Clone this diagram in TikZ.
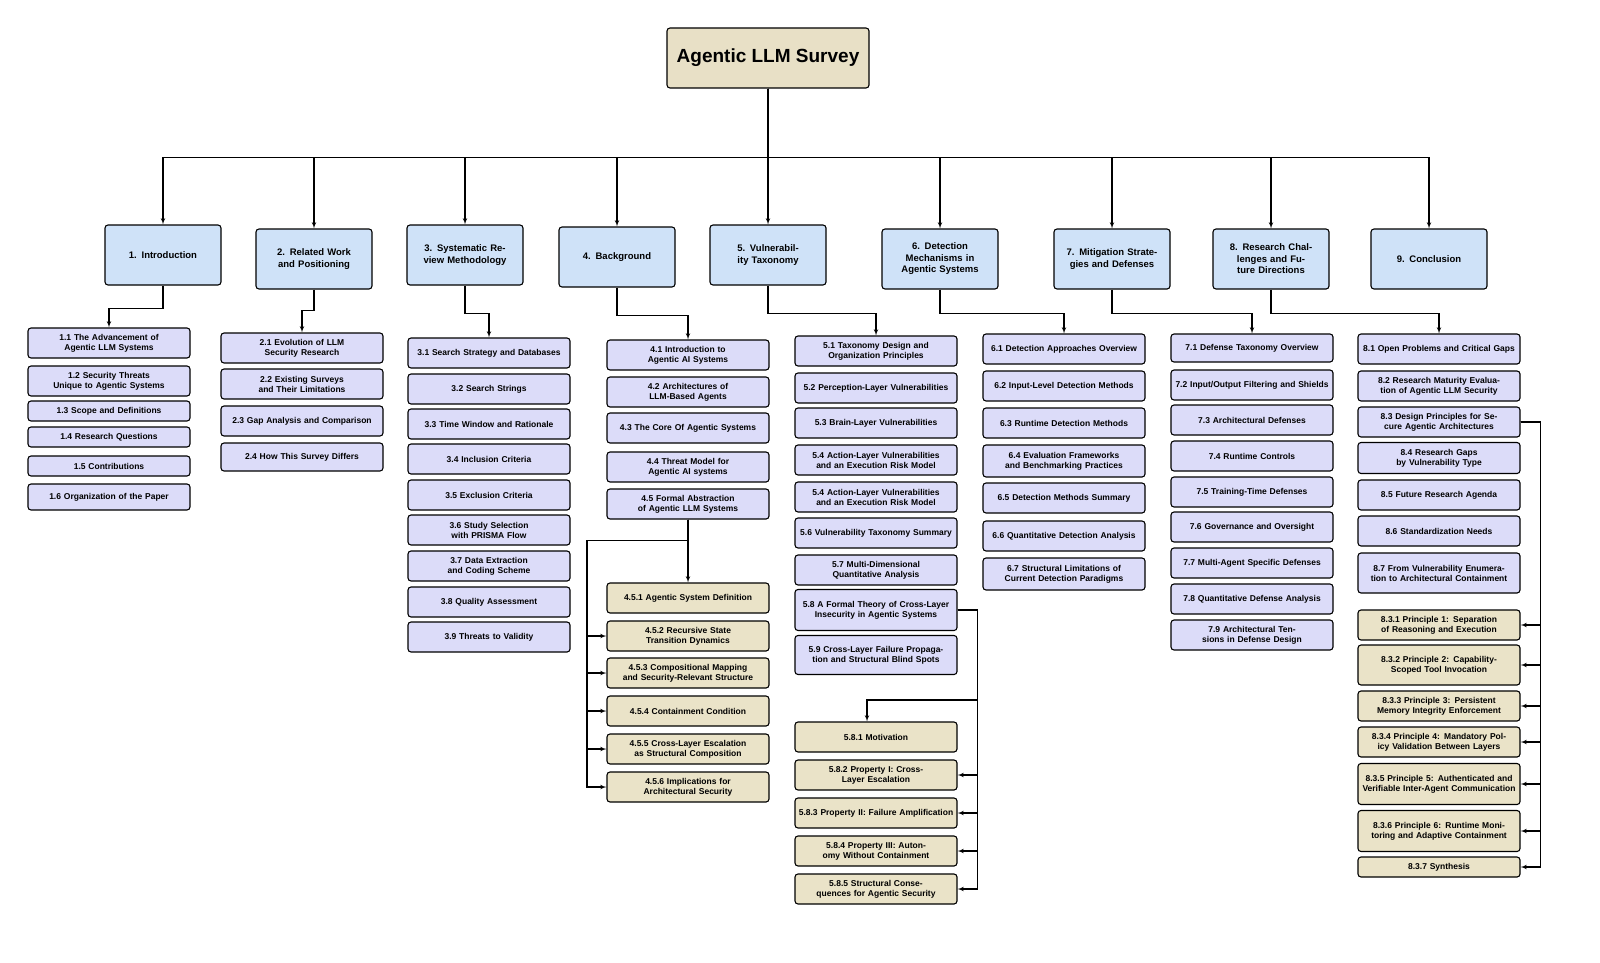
\documentclass[tikz,border=0pt]{standalone}
\usepackage{fontspec}
\setmainfont{Liberation Sans}
\usepackage{tikz}
\usetikzlibrary{arrows, positioning, shapes}

\definecolor{rootfill}{HTML}{E8E0C6}
\definecolor{secfill}{HTML}{CFE2F8}
\definecolor{subfill}{HTML}{DCDCF9}
\definecolor{leaffill}{HTML}{EAE3C8}

\begin{document}
\begin{tikzpicture}[x=1pt, y=-1pt,
  box/.style    ={draw, rectangle, rounded corners=3pt, line width=1.1pt, align=center,
                  font=\fontsize{8.5}{10}\selectfont\bfseries, inner ysep=1pt},
  rootbox/.style={box, fill=rootfill, minimum width=202, minimum height=60,
                  font=\fontsize{19}{22}\selectfont\bfseries},
  sec/.style    ={box, fill=secfill, text width=106, inner xsep=5pt, minimum height=60,
                  font=\fontsize{9.5}{11.5}\selectfont\bfseries},
  sub/.style    ={box, fill=subfill, text width=156, inner xsep=3pt, minimum height=30},
  leaf/.style   ={box, fill=leaffill, text width=156, inner xsep=3pt, minimum height=30},
  link/.style   ={draw, line width=1.1pt, -latex'}
]
\useasboundingbox (0,0) rectangle (1600,963);

\node [rootbox] (root) at (768,58) {Agentic LLM Survey};

\node [sec] (sec1) at (163,255) {1. Introduction};
\node [sec] (sec2) at (314,259) {2. Related Work and Positioning};
\node [sec] (sec3) at (465,255) {3. Systematic Review Methodology};
\node [sec] (sec4) at (617,257) {4. Background};
\node [sec] (sec5) at (768,255) {5. Vulnerability Taxonomy};
\node [sec] (sec6) at (940,259) {6. Detection Mechanisms in Agentic Systems};
\node [sec] (sec7) at (1112,259) {7. Mitigation Strategies and Defenses};
\node [sec] (sec8) at (1271,259) {8. Research Challenges and Future Directions};
\node [sec] (sec9) at (1429,259) {9. Conclusion};

\foreach \s in {1,...,9}
  \path [link] (root.south) -- ++(0,69) -| (sec\s.north);

% section 1
\node [sub                   ] (s11) at (109,343) {1.1 The Advancement of Agentic LLM Systems};
\node [sub                   ] (s12) at (109,381) {1.2 Security Threats Unique to Agentic Systems};
\node [sub, minimum height=20] (s13) at (109,411) {1.3 Scope and Definitions};
\node [sub, minimum height=20] (s14) at (109,437) {1.4 Research Questions};
\node [sub, minimum height=20] (s15) at (109,466) {1.5 Contributions};
\node [sub, minimum height=26] (s16) at (109,497) {1.6 Organization of the Paper};
\path [link] (sec1.south) -- ++(0,23) -| (s11.north);

% section 2
\node [sub] (s21) at (302,348) {2.1 Evolution of LLM Security Research};
\node [sub] (s22) at (302,384) {2.2 Existing Surveys and Their Limitations};
\node [sub] (s23) at (302,421) {2.3 Gap Analysis and Comparison};
\node [sub, minimum height=28] (s24) at (302,457) {2.4 How This Survey Differs};
\path [link] (sec2.south) -- ++(0,21) -| (s21.north);

% section 3
\node [sub] (s31) at (489,353) {3.1 Search Strategy and Databases};
\node [sub] (s32) at (489,389) {3.2 Search Strings};
\node [sub] (s33) at (489,424) {3.3 Time Window and Rationale};
\node [sub] (s34) at (489,459) {3.4 Inclusion Criteria};
\node [sub] (s35) at (489,495) {3.5 Exclusion Criteria};
\node [sub] (s36) at (489,530) {3.6 Study Selection with PRISMA Flow};
\node [sub] (s37) at (489,566) {3.7 Data Extraction and Coding Scheme};
\node [sub] (s38) at (489,602) {3.8 Quality Assessment};
\node [sub] (s39) at (489,637) {3.9 Threats to Validity};
\path [link] (sec3.south) -- ++(0,28) -| (s31.north);

% section 4
\node [sub] (s41) at (688,355) {4.1 Introduction to Agentic AI Systems};
\node [sub] (s42) at (688,392) {4.2 Architectures of LLM-Based Agents};
\node [sub] (s43) at (688,428) {4.3 The Core Of Agentic Systems};
\node [sub] (s44) at (688,467) {4.4 Threat Model for Agentic AI systems};
\node [sub] (s45) at (688,504) {4.5 Formal Abstraction of Agentic LLM Systems};
\path [link] (sec4.south) -- ++(0,28) -| (s41.north);

\node [leaf] (s451) at (688,598) {4.5.1 Agentic System Definition};
\node [leaf] (s452) at (688,636) {4.5.2 Recursive State Transition Dynamics};
\node [leaf] (s453) at (688,673) {4.5.3 Compositional Mapping and Security-Relevant Structure};
\node [leaf] (s454) at (688,711) {4.5.4 Containment Condition};
\node [leaf] (s455) at (688,749) {4.5.5 Cross-Layer Escalation as Structural Composition};
\node [leaf] (s456) at (688,787) {4.5.6 Implications for Architectural Security};
\path [link] (s45.south) -- (s451.north);
\foreach \k in {2,...,6}
  \path [link] (s45.south) -- ++(0,21) -- ++(-101,0) |- (s45\k.west);

% section 5
\node [sub] (s51) at (876,351) {5.1 Taxonomy Design and Organization Principles};
\node [sub] (s52) at (876,388) {5.2 Perception-Layer Vulnerabilities};
\node [sub] (s53) at (876,423) {5.3 Brain-Layer Vulnerabilities};
\node [sub] (s54) at (876,460) {5.4 Action-Layer Vulnerabilities and an Execution Risk Model};
\node [sub] (s55) at (876,497) {5.4 Action-Layer Vulnerabilities and an Execution Risk Model};
\node [sub] (s56) at (876,533) {5.6 Vulnerability Taxonomy Summary};
\node [sub] (s57) at (876,570) {5.7 Multi-Dimensional Quantitative Analysis};
\node [sub, minimum height=41] (s58) at (876,610) {5.8 A Formal Theory of Cross-Layer Insecurity in Agentic Systems};
\node [sub, minimum height=39] (s59) at (876,655) {5.9 Cross-Layer Failure Propagation and Structural Blind Spots};
\path [link] (sec5.south) -- ++(0,28) -| (s51.north);

\node [leaf] (s581) at (876,737) {5.8.1 Motivation};
\node [leaf] (s582) at (876,775) {5.8.2 Property I: Cross-Layer Escalation};
\node [leaf] (s583) at (876,813) {5.8.3 Property II: Failure Amplification};
\node [leaf] (s584) at (876,851) {5.8.4 Property III: Autonomy Without Containment};
\node [leaf] (s585) at (876,889) {5.8.5 Structural Consequences for Agentic Security};
\path [link] (s58.east) -- ++(20,0) -- ++(0,90) -| ([xshift=-9pt]s581.north);
\foreach \k in {2,...,5}
  \path [link] (s58.east) -- ++(20,0) |- (s58\k.east);

% section 6
\node [sub] (s61) at (1064,349) {6.1 Detection Approaches Overview};
\node [sub] (s62) at (1064,386) {6.2 Input-Level Detection Methods};
\node [sub] (s63) at (1064,423) {6.3 Runtime Detection Methods};
\node [sub, minimum height=32] (s64) at (1064,461) {6.4 Evaluation Frameworks and Benchmarking Practices};
\node [sub] (s65) at (1064,498) {6.5 Detection Methods Summary};
\node [sub] (s66) at (1064,536) {6.6 Quantitative Detection Analysis};
\node [sub, minimum height=32] (s67) at (1064,574) {6.7 Structural Limitations of Current Detection Paradigms};
\path [link] (sec6.south) -- ++(0,24) -| (s61.north);

% section 7
\node [sub, minimum height=28] (s71) at (1252,348) {7.1 Defense Taxonomy Overview};
\node [sub] (s72) at (1252,385) {7.2 Input/Output Filtering and Shields};
\node [sub] (s73) at (1252,420) {7.3 Architectural Defenses};
\node [sub] (s74) at (1252,456) {7.4 Runtime Controls};
\node [sub] (s75) at (1252,492) {7.5 Training-Time Defenses};
\node [sub] (s76) at (1252,527) {7.6 Governance and Oversight};
\node [sub] (s77) at (1252,563) {7.7 Multi-Agent Specific Defenses};
\node [sub] (s78) at (1252,599) {7.8 Quantitative Defense Analysis};
\node [sub] (s79) at (1252,635) {7.9 Architectural Tensions in Defense Design};
\path [link] (sec7.south) -- ++(0,24) -| (s71.north);

% section 8
\node [sub] (s81) at (1439,349) {8.1 Open Problems and Critical Gaps};
\node [sub] (s82) at (1439,386) {8.2 Research Maturity Evaluation of Agentic LLM Security};
\node [sub] (s83) at (1439,422) {8.3 Design Principles for Secure Agentic Architectures};
\node [sub, minimum height=31] (s84) at (1439,458) {8.4 Research Gaps by Vulnerability Type};
\node [sub] (s85) at (1439,495) {8.5 Future Research Agenda};
\node [sub] (s86) at (1439,531) {8.6 Standardization Needs};
\node [sub, minimum height=40] (s87) at (1439,573) {8.7 From Vulnerability Enumeration to Architectural Containment};
\path [link] (sec8.south) -- ++(0,24) -| (s81.north);

\node [leaf                   ] (s831) at (1439,625) {8.3.1 Principle 1: Separation of Reasoning and Execution};
\node [leaf, minimum height=40] (s832) at (1439,665) {8.3.2 Principle 2: Capability-Scoped Tool Invocation};
\node [leaf                   ] (s833) at (1439,706) {8.3.3 Principle 3: Persistent Memory Integrity Enforcement};
\node [leaf                   ] (s834) at (1439,742) {8.3.4 Principle 4: Mandatory Policy Validation Between Layers};
\node [leaf, minimum height=41] (s835) at (1439,784) {8.3.5 Principle 5: Authenticated and Verifiable Inter-Agent Communication};
\node [leaf, minimum height=41] (s836) at (1439,831) {8.3.6 Principle 6: Runtime Monitoring and Adaptive Containment};
\node [leaf, minimum height=20] (s837) at (1439,867) {8.3.7 Synthesis};
\foreach \k in {1,...,7}
  \path [link] (s83.east) -- ++(20,0) |- (s83\k.east);

\end{tikzpicture}
\end{document}
